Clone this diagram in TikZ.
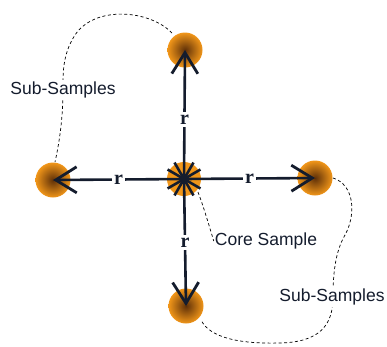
\documentclass[tikz,border=0pt]{standalone}
\usepackage{fontspec}
\setmainfont{Liberation Sans}
\newfontfamily\rfont{Liberation Serif}
\usetikzlibrary{arrows.meta}
\definecolor{navy}{RGB}{20,28,45}
\definecolor{orng}{RGB}{241,150,25}
\definecolor{darkc}{RGB}{95,48,8}
\tikzset{
  sub/.style={circle, minimum size=35pt, inner sep=0pt, shading=radial, inner color=darkc, outer color=orng},
  core/.style={circle, minimum size=34pt, inner sep=0pt, fill=orng},
  arr/.style={navy, line width=2.6pt, -{Straight Barb[length=21pt,width=26pt,line width=2.8pt]}},
  spoke/.style={navy, line width=2.6pt},
  rlab/.style={fill=white, inner sep=2.5pt, font=\rfont\bfseries\fontsize{20}{22}\selectfont, text=navy},
  lab/.style={fill=white, inner sep=1.5pt, font=\fontsize{17.5}{20}\selectfont, text=navy},
  dsh/.style={black, line width=0.7pt, dash pattern=on 3pt off 2.5pt}
}
\begin{document}
\begin{tikzpicture}[x=1pt,y=-1pt]
\useasboundingbox (0,0) rectangle (387,346);
% circles
\node[core] (c) at (184,179) {};
\node[sub] (t) at (185,50) {};
\node[sub] (l) at (53,180) {};
\node[sub] (rr) at (315,178) {};
\node[sub] (b) at (186,306) {};
% dashed curves
\coordinate (lt0) at (172,33);
\coordinate (lb0) at (55,162);
\draw[dsh] (lt0) .. controls (150,10) and (95,5) .. (75,35)
  .. controls (62,55) and (63,75) .. (63,90)
  .. controls (63,115) and (60,140) .. (lb0);
\node[lab] (s1) at (63,90) {Sub-Samples};
\coordinate (rt0) at (333,178);
\coordinate (bb0) at (201,320);
\draw[dsh] (rt0) .. controls (355,185) and (356,215) .. (345,235)
  .. controls (335,252) and (333,275) .. (333,297)
  .. controls (333,325) and (320,342) .. (280,343)
  .. controls (240,344) and (210,338) .. (bb0);
\node[lab] (s2) at (332,297) {Sub-Samples};
\coordinate (cs0) at (198,192);
\node[lab, inner sep=1pt] (cs) at (266,241) {Core Sample};
\draw[dsh] (cs0) .. controls (204,208) and (208,222) .. (cs.west);
% spokes
\foreach \a in {0,30,...,330} \draw[spoke] (c.center) -- ++(\a:19);
% arrows
\draw[arr] (c.center) -- (t.center) node[rlab, pos=0.46] {r};
\draw[arr] (c.center) -- (l.center) node[rlab, pos=0.5] {r};
\draw[arr] (c.center) -- (rr.center) node[rlab, pos=0.5] {r};
\draw[arr] (c.center) -- (b.center) node[rlab, pos=0.5] {r};
\end{tikzpicture}
\end{document}
